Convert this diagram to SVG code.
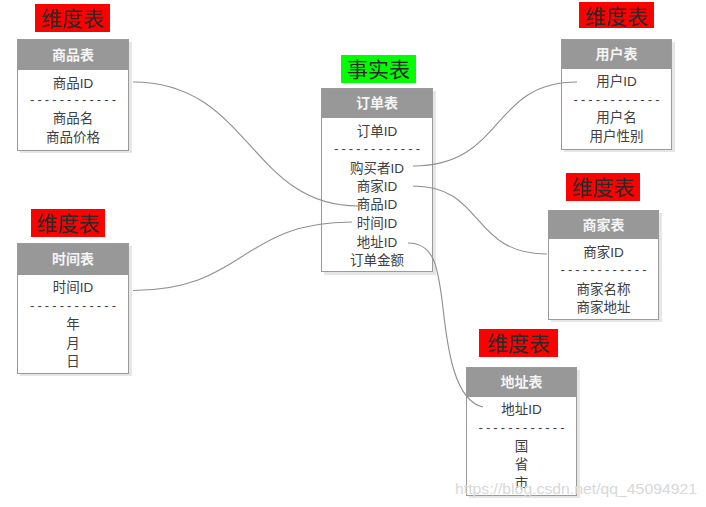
<svg xmlns="http://www.w3.org/2000/svg" width="706" height="507" viewBox="0 0 706 507">
<style>
.shadow{fill:#e6e6e6}
.box{fill:#ffffff;stroke:#9a9a9a;stroke-width:1}
.hdr{fill:#989898}
.ht{font-family:"Liberation Sans","Noto Sans CJK SC",sans-serif;font-size:14px;font-weight:bold;fill:#f4f4f4;text-anchor:middle}
.t{font-family:"Liberation Sans","Noto Sans CJK SC",sans-serif;font-size:13.5px;fill:#404040;text-anchor:middle}
.d{font-family:"Liberation Sans",sans-serif;font-size:13px;fill:#404040;text-anchor:middle}
.lbl{font-family:"Noto Sans CJK SC",serif;font-size:21px;fill:#2a2a2a;text-anchor:middle}
.red{fill:#ff0000}
.green{fill:#00ff00}
.c{fill:none;stroke:#8f8f8f;stroke-width:1.1}
.wm{font-family:"Liberation Sans",sans-serif;font-size:15px;fill:#d8d8d8}
</style>
<g id="goods">
<rect class="red" x="35" y="4" width="75" height="28"/>
<text class="lbl" x="72.5" y="26">维度表</text>
<rect class="shadow" x="20" y="42" width="112" height="111"/>
<rect class="box" x="17.5" y="39.5" width="111" height="111"/>
<rect class="hdr" x="18" y="40" width="110" height="30"/>
<text class="ht" x="73" y="60">商品表</text>
<text class="t" x="73" y="88">商品ID</text>
<text class="d" x="73" y="104" textLength="86" lengthAdjust="spacing">------------</text>
<text class="t" x="73" y="123">商品名</text>
<text class="t" x="73" y="142">商品价格</text>
</g>
<g id="order">
<rect class="green" x="341" y="55" width="75" height="28"/>
<text class="lbl" x="378.5" y="77">事实表</text>
<rect class="shadow" x="324" y="91" width="112" height="184"/>
<rect class="box" x="321.5" y="88.5" width="111" height="183"/>
<rect class="hdr" x="322" y="89" width="110" height="29"/>
<text class="ht" x="377" y="108">订单表</text>
<text class="t" x="377" y="136">订单ID</text>
<text class="d" x="377" y="153" textLength="86" lengthAdjust="spacing">------------</text>
<text class="t" x="377" y="173">购买者ID</text>
<text class="t" x="377" y="191">商家ID</text>
<text class="t" x="377" y="209">商品ID</text>
<text class="t" x="377" y="228">时间ID</text>
<text class="t" x="377" y="247">地址ID</text>
<text class="t" x="377" y="265">订单金额</text>
</g>
<g id="user">
<rect class="red" x="579" y="2" width="75" height="26"/>
<text class="lbl" x="616.5" y="24">维度表</text>
<rect class="shadow" x="564" y="42" width="111" height="110"/>
<rect class="box" x="561.5" y="39.5" width="110" height="110"/>
<rect class="hdr" x="562" y="40" width="109" height="29"/>
<text class="ht" x="616.5" y="59">用户表</text>
<text class="t" x="616.5" y="86">用户ID</text>
<text class="d" x="616.5" y="104" textLength="86" lengthAdjust="spacing">------------</text>
<text class="t" x="616.5" y="122">用户名</text>
<text class="t" x="616.5" y="141">用户性别</text>
</g>
<g id="time">
<rect class="red" x="31" y="209" width="74" height="28"/>
<text class="lbl" x="68" y="231">维度表</text>
<rect class="shadow" x="20" y="246" width="112" height="130"/>
<rect class="box" x="17.5" y="243.5" width="111" height="130"/>
<rect class="hdr" x="18" y="244" width="110" height="31"/>
<text class="ht" x="73" y="264">时间表</text>
<text class="t" x="73" y="292">时间ID</text>
<text class="d" x="73" y="310" textLength="86" lengthAdjust="spacing">------------</text>
<text class="t" x="73" y="329">年</text>
<text class="t" x="73" y="348">月</text>
<text class="t" x="73" y="366">日</text>
</g>
<g id="merchant">
<rect class="red" x="566" y="173" width="74" height="28"/>
<text class="lbl" x="603" y="195">维度表</text>
<rect class="shadow" x="551" y="213" width="111" height="109"/>
<rect class="box" x="548.5" y="210.5" width="110" height="109"/>
<rect class="hdr" x="549" y="211" width="109" height="28"/>
<text class="ht" x="603.5" y="230">商家表</text>
<text class="t" x="603.5" y="257">商家ID</text>
<text class="d" x="603.5" y="274" textLength="86" lengthAdjust="spacing">------------</text>
<text class="t" x="603.5" y="294">商家名称</text>
<text class="t" x="603.5" y="312">商家地址</text>
</g>
<g id="address">
<rect class="red" x="479" y="329" width="79" height="28"/>
<text class="lbl" x="518.5" y="351">维度表</text>
<rect class="shadow" x="469" y="370" width="111" height="128"/>
<rect class="box" x="466.5" y="367.5" width="110" height="128"/>
<rect class="hdr" x="467" y="368" width="109" height="29"/>
<text class="ht" x="521.5" y="387">地址表</text>
<text class="t" x="521.5" y="414">地址ID</text>
<text class="d" x="521.5" y="432" textLength="86" lengthAdjust="spacing">------------</text>
<text class="t" x="521.5" y="451">国</text>
<text class="t" x="521.5" y="469">省</text>
<text class="t" x="521.5" y="488">市</text>
</g>
<g id="connectors">
<path class="c" d="M133,82 C250,82 250,206 358,206"/>
<path class="c" d="M133,290.5 C245,290.5 240,222 352,222"/>
<path class="c" d="M413,166 C505,166 490,82 577,82"/>
<path class="c" d="M413,186 C485,186 470,254 547,254"/>
<path class="c" d="M408,243 C435,243 438,270 442,300 S450,400 483,407"/>
</g>
<text class="wm" x="455" y="494" textLength="242" lengthAdjust="spacingAndGlyphs">https://blog.csdn.net/qq_45094921</text>
</svg>
